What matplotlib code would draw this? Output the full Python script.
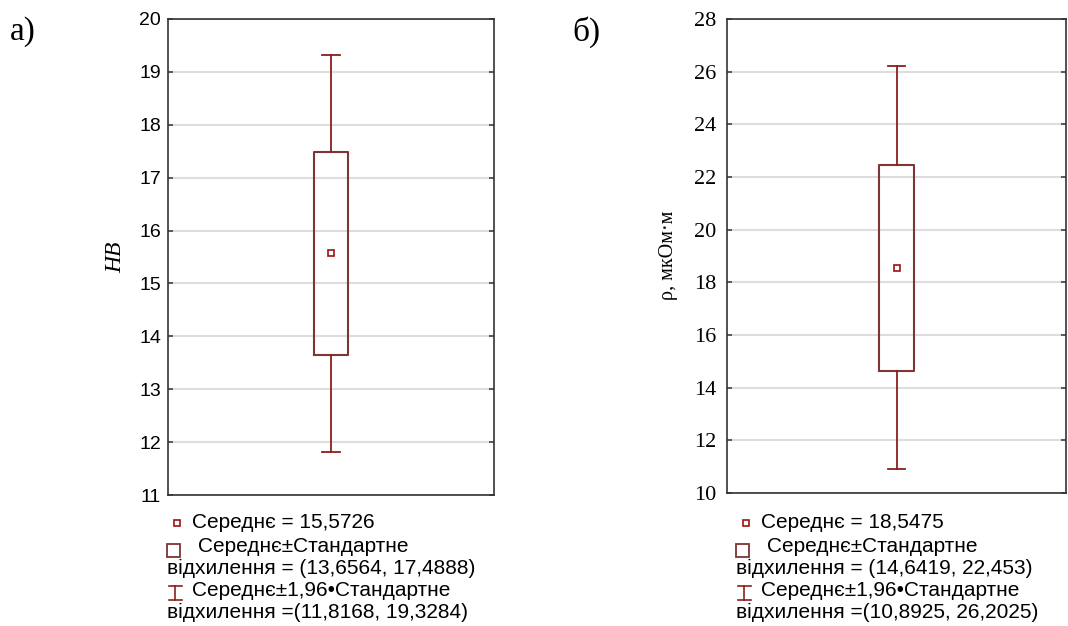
import matplotlib
matplotlib.use("Agg")
import matplotlib.pyplot as plt
from matplotlib.lines import Line2D
from matplotlib.patches import Rectangle

# ---- data ----
hb_mean = 15.5726
hb_sd = (13.6564, 17.4888)
hb_ci = (11.8168, 19.3284)
hb_ticks = [11, 12, 13, 14, 15, 16, 17, 18, 19, 20]

rho_mean = 18.5475
rho_sd = (14.6419, 22.453)
rho_ci = (10.8925, 26.2025)
rho_ticks = [10, 12, 14, 16, 18, 20, 22, 24, 26, 28]

hb_legend = ["Середнє = 15,5726", "Середнє±Стандартне",
             "відхилення = (13,6564, 17,4888)", "Середнє±1,96•Стандартне",
             "відхилення =(11,8168, 19,3284)"]
rho_legend = ["Середнє = 18,5475", "Середнє±Стандартне",
              "відхилення = (14,6419, 22,453)", "Середнє±1,96•Стандартне",
              "відхилення =(10,8925, 26,2025)"]

W, H = 1068, 626
fig = plt.figure(figsize=(W / 100, H / 100), dpi=100)

BOX_C = "#7d3535"
WHISK_C = "#8b1f1f"
MEAN_C = "#a01010"


def px(x, y):
    return x / W, 1 - y / H


def panel(rect, mean, sd, ci, ticks, tickfont, tsize, boxw, capw, pad):
    ax = fig.add_axes(rect)
    stats = [dict(med=mean, q1=sd[0], q3=sd[1], whislo=ci[0], whishi=ci[1],
                  mean=mean, fliers=[])]
    ax.bxp(stats, positions=[0.5], widths=boxw, capwidths=capw,
           showmeans=True, showfliers=False, patch_artist=False,
           boxprops=dict(color=BOX_C, linewidth=1.5),
           whiskerprops=dict(color=WHISK_C, linewidth=1.3),
           capprops=dict(color=WHISK_C, linewidth=1.3),
           medianprops=dict(linewidth=0),
           meanprops=dict(marker="s", markersize=5, markerfacecolor="white",
                          markeredgecolor=MEAN_C, markeredgewidth=1.2))
    ax.set_xlim(0, 1)
    ax.set_ylim(ticks[0], ticks[-1])
    ax.set_yticks(ticks)
    ax.set_yticklabels([str(t) for t in ticks])
    ax.set_xticks([])
    ax.yaxis.grid(True, color="#dddddd", linewidth=1.5)
    ax.set_axisbelow(True)
    ax.tick_params(axis="y", direction="in", right=True, length=3.5, width=1.2,
                   color="#444444", pad=pad, labelsize=tsize,
                   labelfontfamily=tickfont)
    for s in ax.spines.values():
        s.set_color("#333333")
        s.set_linewidth(1.2)
    return ax


axL = panel([168 / W, 1 - 495 / H, 326 / W, 476 / H], hb_mean, hb_sd, hb_ci,
            hb_ticks, "Liberation Sans", 14, 0.104, 0.058, 5)
axL.set_ylabel("HB", fontfamily="Liberation Serif", fontstyle="italic", fontsize=17)
axL.yaxis.set_label_coords((126 - 168) / 326, (495 - 257) / 476)

axR = panel([727 / W, 1 - 493 / H, 339 / W, 474 / H], rho_mean, rho_sd, rho_ci,
            rho_ticks, "Liberation Serif", 16, 0.103, 0.053, 8)
axR.set_ylabel("ρ, мкОм·м", fontfamily="Liberation Serif", fontsize=14.5)
axR.yaxis.set_label_coords((678 - 727) / 339, (493 - 255) / 474)

# panel labels
fig.text(*px(10, 32), "а)", fontfamily="Liberation Serif", fontsize=24, va="center", ha="left")
fig.text(*px(572, 32), "б)", fontfamily="Liberation Serif", fontsize=24, va="center", ha="left")


def legend_block(x0, lines):
    fs = 15
    fam = "Liberation Sans"
    # mean marker
    fig.add_artist(Line2D([(x0 + 10) / W], [1 - 523 / H], marker="s", markersize=5,
                          markerfacecolor="white", markeredgecolor=MEAN_C,
                          markeredgewidth=1.2, transform=fig.transFigure))
    fig.text(*px(x0 + 25, 522), lines[0], fontfamily=fam, fontsize=fs, va="center")
    # box symbol
    fig.add_artist(Rectangle(px(x0, 557), 13 / W, 13 / H, fill=False,
                             edgecolor=BOX_C, linewidth=1.3, transform=fig.transFigure))
    fig.text(*px(x0 + 31, 547), lines[1], fontfamily=fam, fontsize=fs, va="center")
    fig.text(*px(x0, 568), lines[2], fontfamily=fam, fontsize=fs, va="center")
    # whisker symbol
    xc = x0 + 8
    for seg in [([xc, xc], [586, 600]), ([x0 + 2, x0 + 15], [586, 586]),
                ([x0 + 2, x0 + 15], [600, 600])]:
        fig.add_artist(Line2D([v / W for v in seg[0]], [1 - v / H for v in seg[1]],
                              color=WHISK_C, linewidth=1.2, transform=fig.transFigure))
    fig.text(*px(x0 + 25, 591), lines[3], fontfamily=fam, fontsize=fs, va="center")
    fig.text(*px(x0, 612), lines[4], fontfamily=fam, fontsize=fs, va="center")


legend_block(167, hb_legend)
legend_block(736, rho_legend)

fig.savefig("out.png", dpi=100, facecolor="white")
